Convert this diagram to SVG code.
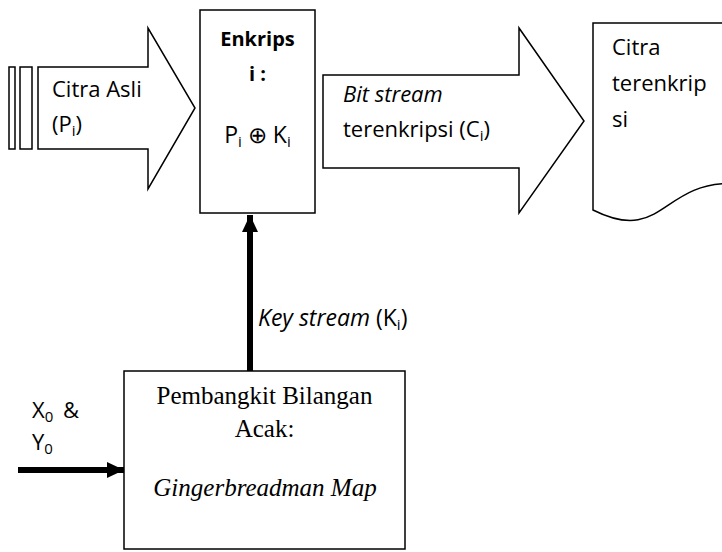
<svg xmlns="http://www.w3.org/2000/svg" width="722" height="552" viewBox="0 0 722 552">
<style>
.shape{fill:#fff;stroke:#000;stroke-width:1.5}
.s{font-family:"Open Sans","Liberation Sans",sans-serif;font-size:22px;fill:#000}
.b{font-weight:bold;font-size:20px}
.it{font-style:italic}
.sub{font-size:15px}
.big{font-size:23px}
.serif{font-family:"Liberation Serif","Times New Roman",serif;font-size:25px;fill:#000}
.thick{stroke:#000;stroke-width:6;fill:none}
</style>
<defs>
<marker id="ah" markerUnits="userSpaceOnUse" markerWidth="18" markerHeight="18" refX="17" refY="9" orient="auto">
<path d="M0,1 L17,9 L0,17 Z" fill="#000"/>
</marker>
</defs>
<rect width="722" height="552" fill="#fff"/>

<g id="citra-asli">
<rect class="shape" x="9" y="67" width="6" height="82"/>
<rect class="shape" x="20" y="67" width="12" height="82"/>
<path class="shape" d="M38,67 H148 V28 L195,108 L148,189 V149 H38 Z"/>
<text class="s" x="52" y="97">Citra Asli</text>
<text class="s" x="52" y="132">(P<tspan class="sub" dy="4">i</tspan><tspan dy="-4">)</tspan></text>
</g>

<g id="enkripsi">
<rect class="shape" x="200" y="10" width="115" height="203"/>
<text class="s b" x="257.5" y="46" text-anchor="middle">Enkrips</text>
<text class="s b" x="257.5" y="81" text-anchor="middle">i :</text>
<text class="s big" x="257.5" y="143" text-anchor="middle">P<tspan class="sub" dy="4">i</tspan><tspan dy="-4"> ⊕ K</tspan><tspan class="sub" dy="4">i</tspan></text>
</g>

<g id="bit-stream">
<path class="shape" d="M323,75 H519 V28 L584,121 L519,213 V168 H323 Z"/>
<text class="s it" x="343" y="102">Bit stream</text>
<text class="s" x="343" y="137">terenkripsi (C<tspan class="sub" dy="4">i</tspan><tspan dy="-4">)</tspan></text>
</g>

<g id="citra-terenkripsi">
<path class="shape" d="M593,23 H730 V183.4 C661.5,183.4 661.5,244.4 593,210 Z"/>
<text class="s" x="612" y="55">Citra</text>
<text class="s" x="612" y="91">terenkrip</text>
<text class="s" x="612" y="127">si</text>
</g>

<g id="pembangkit">
<rect class="shape" x="124" y="371" width="281" height="178"/>
<text class="serif" x="264.5" y="404" text-anchor="middle">Pembangkit Bilangan</text>
<text class="serif" x="264.5" y="437" text-anchor="middle">Acak:</text>
<text class="serif it" x="265" y="496" text-anchor="middle">Gingerbreadman Map</text>
</g>

<g id="input-label">
<text class="s" x="32" y="418">X<tspan class="sub" dy="4">0</tspan><tspan dy="-4" x="63">&amp;</tspan></text>
<text class="s" x="32" y="450">Y<tspan class="sub" dy="4">0</tspan></text>
</g>

<g id="connectors">
<line class="thick" x1="250" y1="371" x2="250" y2="215" marker-end="url(#ah)"/>
<line class="thick" x1="18" y1="470" x2="124" y2="470" marker-end="url(#ah)"/>
<text class="s big" x="258" y="326"><tspan class="it">Key stream</tspan> (K<tspan class="sub" dy="4">i</tspan><tspan dy="-4">)</tspan></text>
</g>
</svg>
